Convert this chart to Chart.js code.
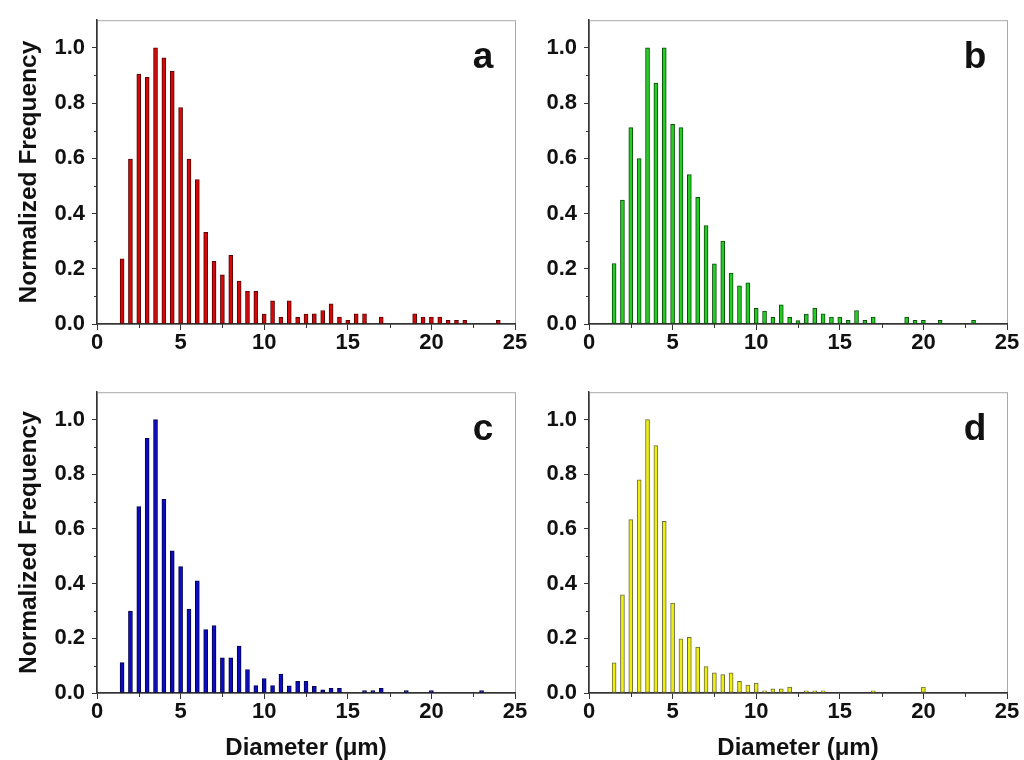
<!DOCTYPE html>
<html>
<head>
<meta charset="utf-8">
<script src="https://cdn.jsdelivr.net/npm/chart.js@4.4.1/dist/chart.umd.min.js"></script>
<style>
  html, body { margin: 0; padding: 0; background: #fff; }
  #page { position: relative; width: 1024px; height: 760px; overflow: hidden; }
  canvas { position: absolute; }
</style>
</head>
<body>
<div id="page">
  <canvas id="pa" width="530" height="372" style="left:0;top:0"></canvas>
  <canvas id="pb" width="512" height="372" style="left:512px;top:0"></canvas>
  <canvas id="pc" width="530" height="388" style="left:0;top:372px"></canvas>
  <canvas id="pd" width="512" height="388" style="left:512px;top:372px"></canvas>
</div>
<script>
// Size distributions (bin centres in um,
// normalized counts). Empty bins are simply left out.
const diamA = [1.5, 2, 2.5, 3, 3.5, 4, 4.5, 5, 5.5, 6, 6.5, 7, 7.5, 8, 8.5, 9, 9.5, 10, 10.5, 11, 11.5, 12, 12.5, 13, 13.5, 14, 14.5, 15, 15.5, 16, 17, 19, 19.5, 20, 20.5, 21, 21.5, 22, 24];
const freqA = [0.236, 0.597, 0.905, 0.893, 1.0, 0.964, 0.916, 0.784, 0.597, 0.523, 0.332, 0.227, 0.178, 0.249, 0.155, 0.118, 0.118, 0.036, 0.084, 0.024, 0.084, 0.024, 0.036, 0.037, 0.049, 0.073, 0.025, 0.013, 0.037, 0.037, 0.025, 0.037, 0.025, 0.025, 0.025, 0.013, 0.013, 0.013, 0.013];

const diamB = [1.5, 2, 2.5, 3, 3.5, 4, 4.5, 5, 5.5, 6, 6.5, 7, 7.5, 8, 8.5, 9, 9.5, 10, 10.5, 11, 11.5, 12, 12.5, 13, 13.5, 14, 14.5, 15, 15.5, 16, 16.5, 17, 19, 19.5, 20, 21, 23];
const freqB = [0.219, 0.449, 0.711, 0.599, 1.0, 0.872, 1.0, 0.723, 0.711, 0.541, 0.459, 0.356, 0.218, 0.300, 0.184, 0.138, 0.149, 0.057, 0.047, 0.024, 0.069, 0.024, 0.012, 0.036, 0.058, 0.037, 0.025, 0.025, 0.013, 0.049, 0.013, 0.025, 0.025, 0.013, 0.013, 0.013, 0.013];

const diamC = [1.5, 2, 2.5, 3, 3.5, 4, 4.5, 5, 5.5, 6, 6.5, 7, 7.5, 8, 8.5, 9, 9.5, 10, 10.5, 11, 11.5, 12, 12.5, 13, 13.5, 14, 14.5, 16, 16.5, 17, 18.5, 20, 23];
const freqC = [0.111, 0.300, 0.682, 0.931, 1.0, 0.708, 0.520, 0.462, 0.307, 0.410, 0.232, 0.247, 0.129, 0.129, 0.172, 0.086, 0.027, 0.053, 0.027, 0.069, 0.026, 0.043, 0.043, 0.024, 0.012, 0.017, 0.017, 0.009, 0.009, 0.017, 0.009, 0.009, 0.009];

const diamD = [1.5, 2, 2.5, 3, 3.5, 4, 4.5, 5, 5.5, 6, 6.5, 7, 7.5, 8, 8.5, 9, 9.5, 10, 10.5, 11, 11.5, 12, 13, 13.5, 14, 17, 20];
const freqD = [0.110, 0.359, 0.634, 0.780, 1.0, 0.905, 0.628, 0.329, 0.198, 0.204, 0.168, 0.097, 0.074, 0.067, 0.074, 0.043, 0.029, 0.036, 0.008, 0.015, 0.015, 0.022, 0.008, 0.008, 0.008, 0.008, 0.022];

// Axis ticks: labelled majors plus unlabelled minors.
const xTicks = [0, 5, 10, 15, 20, 25];
const xMinor = [2.5, 7.5, 12.5, 17.5, 22.5];
const yTicks = [0, 0.2, 0.4, 0.6, 0.8, 1.0];
const yMinor = [0.1, 0.3, 0.5, 0.7, 0.9];

const yTitle = "Normalized Frequency";
const xTitle = "Diameter (\u03bcm)";

Chart.defaults.font.family = "'Liberation Sans', Arial, sans-serif";
Chart.defaults.color = "#111";

const AXIS = "#333";

// Light grey frame round the plot; the left/bottom axis lines paint over it.
const framePlugin = {
  id: "frame",
  beforeDraw(chart) {
    const { ctx, chartArea: a } = chart;
    ctx.save();
    ctx.strokeStyle = "#a8a8a8";
    ctx.lineWidth = 1;
    ctx.strokeRect(a.left + 0.5, a.top + 0.5, a.right - a.left, a.bottom - a.top);
    ctx.restore();
  },
};

// Short outward minor ticks (Chart.js has no minor-tick option).
const minorTickPlugin = {
  id: "minorTicks",
  afterDraw(chart) {
    const { ctx, chartArea: a, scales } = chart;
    ctx.save();
    ctx.strokeStyle = AXIS;
    ctx.lineWidth = 1;
    ctx.beginPath();
    for (const v of yMinor) {
      const y = Math.round(scales.y.getPixelForValue(v)) + 0.5;
      ctx.moveTo(a.left - 3, y);
      ctx.lineTo(a.left, y);
    }
    for (const v of xMinor) {
      const x = Math.round(scales.x.getPixelForValue(v)) + 0.5;
      ctx.moveTo(x, a.bottom);
      ctx.lineTo(x, a.bottom + 4);
    }
    ctx.stroke();
    ctx.restore();
  },
};

// Panel letter in the top-right corner of the plot.
const letterPlugin = {
  id: "letter",
  afterDraw(chart, args, opts) {
    const { ctx, chartArea: a } = chart;
    ctx.save();
    ctx.font = "bold 37px 'Liberation Sans', Arial, sans-serif";
    ctx.fillStyle = "#111";
    ctx.textAlign = "center";
    ctx.textBaseline = "middle";
    ctx.fillText(opts.text, a.right - 32, a.top + 38);
    ctx.restore();
  },
};

/**
 * One histogram panel.
 * @param {string} id canvas id
 * @param {number[]} diam bin centres
 * @param {number[]} freq normalized counts
 */
function makePanel(id, diam, freq, p) {
  return new Chart(document.getElementById(id), {
    type: "bar",
    data: {
      datasets: [{
        data: diam.map((d, i) => ({ x: d, y: freq[i] })),
        backgroundColor: p.fill,
        borderColor: p.edge,
        borderWidth: 1,
        borderSkipped: false,
        barThickness: 4,
      }],
    },
    plugins: [framePlugin, minorTickPlugin, letterPlugin],
    options: {
      responsive: false,
      animation: false,
      events: [],
      layout: { padding: { top: p.top, right: p.right, left: 0, bottom: 0 } },
      plugins: {
        legend: { display: false },
        tooltip: { enabled: false },
        letter: { text: p.letter },
      },
      scales: {
        x: {
          type: "linear",
          min: 0,
          max: 25,
          offset: false,
          afterBuildTicks: (s) => { s.ticks = xTicks.map((v) => ({ value: v })); },
          afterFit: (s) => { s.height = p.xHeight; },
          ticks: { font: { size: 22, weight: "bold" }, padding: 0, maxRotation: 0 },
          grid: { drawOnChartArea: false, tickLength: 6, color: AXIS, offset: false },
          border: { color: AXIS, width: 1.5 },
          title: {
            display: !!p.xTitle,
            text: xTitle,
            color: "#111",
            font: { size: 24, weight: "bold", lineHeight: 1 },
            padding: { top: 0, bottom: 0 },
          },
        },
        y: {
          min: 0,
          max: 1.1,
          afterBuildTicks: (s) => { s.ticks = yTicks.map((v) => ({ value: v })); },
          afterFit: (s) => { s.width = p.yWidth; },
          ticks: {
            font: { size: 22, weight: "bold" },
            padding: 7,
            callback: (v) => Number(v).toFixed(1),
          },
          grid: { drawOnChartArea: false, tickLength: 5, color: AXIS },
          border: { color: AXIS, width: 1.5 },
          title: {
            display: !!p.yTitle,
            text: yTitle,
            color: "#111",
            font: { size: 24.5, weight: "bold", lineHeight: 1.2 },
            padding: { top: 15, bottom: 0 },
          },
        },
      },
    },
  });
}

makePanel("pa", diamA, freqA, { fill: "#d40808", edge: "#5a0000", letter: "a", yTitle: true, xTitle: false, yWidth: 97, xHeight: 48, top: 17, right: 15 });
makePanel("pb", diamB, freqB, { fill: "#26cc26", edge: "#0b4d0b", letter: "b", yTitle: false, xTitle: false, yWidth: 77, xHeight: 48, top: 17, right: 17 });
makePanel("pc", diamC, freqC, { fill: "#0c0cc4", edge: "#00004a", letter: "c", yTitle: true, xTitle: true, yWidth: 97, xHeight: 67, top: 15, right: 15 });
makePanel("pd", diamD, freqD, { fill: "#eeee12", edge: "#6b6b3a", letter: "d", yTitle: false, xTitle: true, yWidth: 77, xHeight: 67, top: 15, right: 17 });
</script>
</body>
</html>
